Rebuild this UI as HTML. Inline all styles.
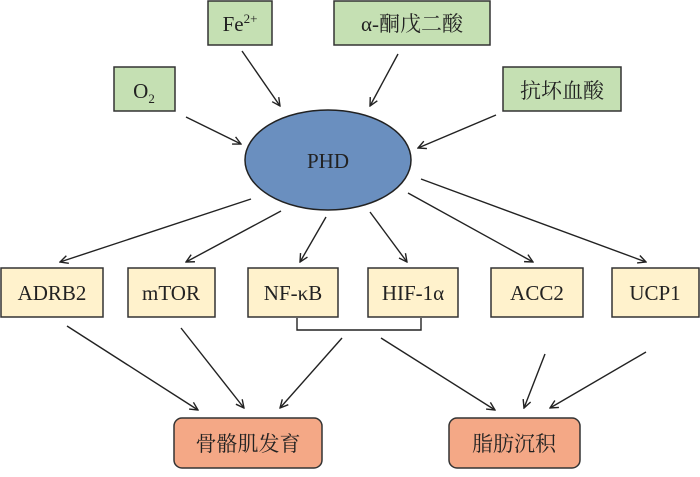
<!DOCTYPE html>
<html><head><meta charset="utf-8"><style>
body{margin:0;background:#fff}
</style></head><body>
<svg width="700" height="472" viewBox="0 0 700 472" xmlns="http://www.w3.org/2000/svg" font-family="Liberation Serif, Noto Serif CJK SC, serif">
<defs><marker id="a" markerWidth="10" markerHeight="10" refX="9" refY="5" orient="auto" markerUnits="userSpaceOnUse"><path d="M1,1 L9,5 L1,9" fill="none" stroke="#222" stroke-width="1.4"/></marker></defs>
<g fill="#c5e0b3" stroke="#333" stroke-width="1.5">
<rect x="208" y="1" width="64" height="44"/>
<rect x="334" y="1" width="156" height="44"/>
<rect x="114" y="67" width="61" height="44"/>
<rect x="503" y="67" width="118" height="44"/>
</g>
<ellipse cx="328" cy="160" rx="83" ry="50" fill="#6a8fbf" stroke="#222" stroke-width="1.5"/>
<g fill="#fff2cc" stroke="#333" stroke-width="1.5">
<rect x="1" y="268" width="102" height="49"/>
<rect x="128" y="268" width="87" height="49"/>
<rect x="248" y="268" width="90" height="49"/>
<rect x="368" y="268" width="90" height="49"/>
<rect x="491" y="268" width="92" height="49"/>
<rect x="612" y="268" width="87" height="49"/>
</g>
<g fill="#f4a886" stroke="#333" stroke-width="1.5">
<rect x="174" y="418" width="148" height="50" rx="8"/>
<rect x="449" y="418" width="131" height="50" rx="8"/>
</g>
<path d="M297,318 V330 H421 V318" fill="none" stroke="#222" stroke-width="1.4"/>
<g stroke="#222" stroke-width="1.4" marker-end="url(#a)">
<line x1="242" y1="51" x2="280" y2="106"/>
<line x1="398" y1="54" x2="370" y2="106"/>
<line x1="186" y1="117" x2="241" y2="144"/>
<line x1="496" y1="115" x2="418" y2="148"/>
<line x1="251" y1="199" x2="60" y2="262"/>
<line x1="281" y1="211" x2="186" y2="262"/>
<line x1="326" y1="217" x2="300" y2="262"/>
<line x1="370" y1="212" x2="407" y2="262"/>
<line x1="408" y1="193" x2="533" y2="262"/>
<line x1="421" y1="179" x2="646" y2="262"/>
<line x1="67" y1="326" x2="198" y2="410"/>
<line x1="181" y1="328" x2="244" y2="408"/>
<line x1="342" y1="338" x2="280" y2="408"/>
<line x1="381" y1="338" x2="495" y2="410"/>
<line x1="545" y1="354" x2="524" y2="408"/>
<line x1="646" y1="352" x2="550" y2="408"/>
</g>
<g font-size="21" fill="#222" text-anchor="middle">
<text x="240" y="31">Fe<tspan font-size="13" dy="-8">2+</tspan></text>
<text x="412" y="31">α-酮戊二酸</text>
<text x="144" y="98">O<tspan font-size="13" dy="5">2</tspan></text>
<text x="562" y="98">抗坏血酸</text>
<text x="328" y="168">PHD</text>
<text x="52" y="300">ADRB2</text>
<text x="171" y="300">mTOR</text>
<text x="293" y="300">NF-κB</text>
<text x="413" y="300">HIF-1α</text>
<text x="537" y="300">ACC2</text>
<text x="655" y="300">UCP1</text>
<text x="248" y="451">骨骼肌发育</text>
<text x="514" y="451">脂肪沉积</text>
</g>
</svg>
</body></html>
